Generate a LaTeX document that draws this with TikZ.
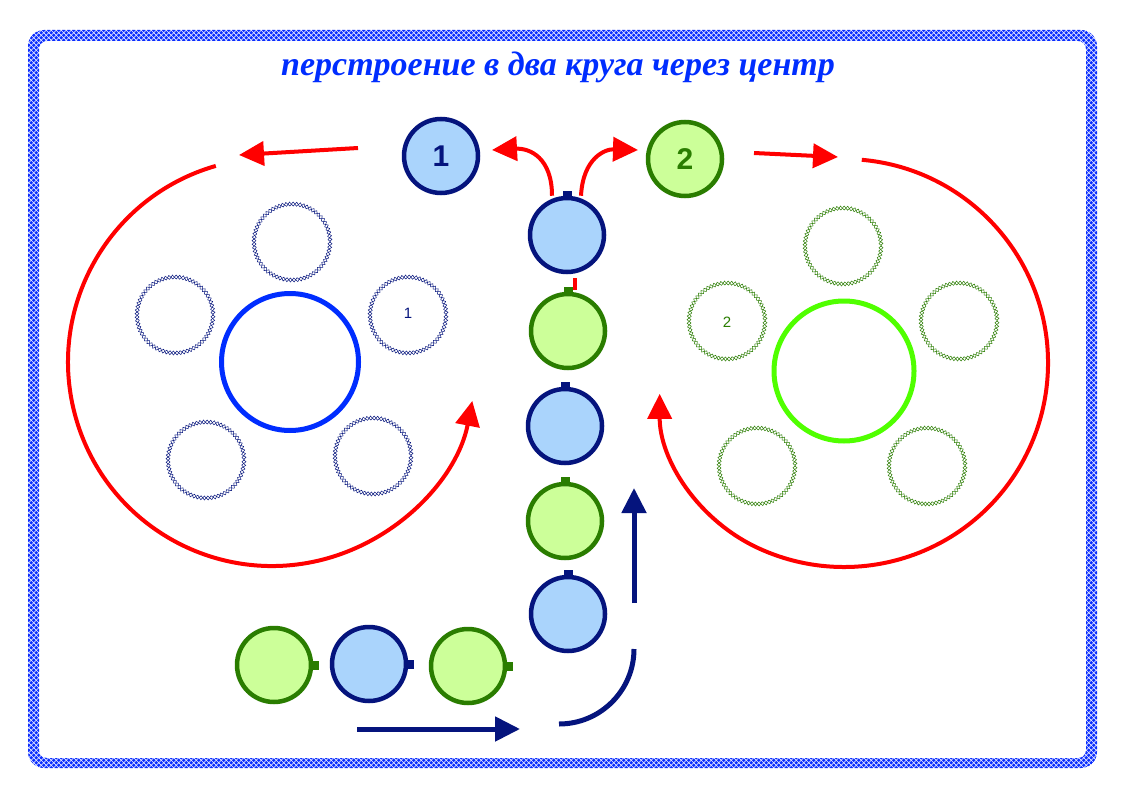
\documentclass[tikz,border=0pt]{standalone}
\usepackage{fontspec}
\setmainfont{Liberation Serif}
\newfontfamily\numfont{Liberation Sans}
\usetikzlibrary{arrows.meta,decorations.pathmorphing,patterns}
\definecolor{navy}{RGB}{5,20,125}
\definecolor{lblue}{RGB}{170,212,252}
\definecolor{dgreen}{RGB}{42,125,0}
\definecolor{lgreen}{RGB}{204,255,153}
\definecolor{bblue}{RGB}{0,45,255}
\definecolor{bgreen}{RGB}{80,255,0}
\definecolor{redc}{RGB}{255,0,0}
\definecolor{framec}{RGB}{10,45,255}
\pgfdeclarepatternformonly{framedots}{\pgfqpoint{-1pt}{-1pt}}{\pgfqpoint{6pt}{6pt}}{\pgfqpoint{5pt}{5pt}}{%
  \pgfpathcircle{\pgfqpoint{1.25pt}{1.25pt}}{1.95pt}%
  \pgfpathcircle{\pgfqpoint{3.75pt}{3.75pt}}{1.95pt}%
  \pgfusepath{fill}}
\tikzset{
  bluep/.style={circle, draw=navy, fill=lblue, line width=4.5pt, minimum size=74pt, inner sep=0pt, text=navy},
  greenp/.style={circle, draw=dgreen, fill=lgreen, line width=4.5pt, minimum size=74pt, inner sep=0pt, text=dgreen},
  redarrow/.style={draw=redc, line width=4pt, -{Triangle[length=25pt,width=24pt]}},
  navyarrow/.style={draw=navy, line width=5pt, -{Triangle[length=25pt,width=24pt]}},
  zigA/.style={draw=#1, line width=0.5pt, decorate, decoration={zigzag, segment length=7pt, amplitude=2pt}},
  zigB/.style={draw=#1, line width=0.5pt, decorate, decoration={zigzag, segment length=7pt, amplitude=2pt, mirror}},
  numtext/.style={font=\numfont\bfseries\fontsize{30}{30}\selectfont},
}
\begin{document}
\begin{tikzpicture}[x=1pt, y=-1pt]
\useasboundingbox (0,0) rectangle (1123,794);
\fill[white] (0,0) rectangle (1123,794);
% frame
\fill[pattern=framedots, pattern color=framec, even odd rule]
  [rounded corners=16pt] (28,30) rectangle (1097,768)
  {[rounded corners=8pt] (39,41) rectangle (1086,758)};
% title
\node (title) at (558,67) {\color{bblue}\bfseries\itshape\fontsize{34}{34}\selectfont перстроение в два круга через центр};

% left group
\draw[bblue, line width=5pt] (290,362) circle[radius=68.5];
\foreach \p in {(292,242),(175,315),(408,315),(206,460),(373,456)}{
  \draw[zigA=navy] \p circle[radius=38];
  \draw[zigB=navy] \p circle[radius=38];
}
\node[text=navy, font=\numfont\fontsize{15}{15}\selectfont] (s1) at (408,313) {1};
% right group
\draw[bgreen, line width=5pt] (844,371) circle[radius=70];
\foreach \p in {(843,246),(727,321),(959,321),(757,466),(927,466)}{
  \draw[zigA=dgreen] \p circle[radius=38];
  \draw[zigB=dgreen] \p circle[radius=38];
}
\node[text=dgreen, font=\numfont\fontsize{15}{15}\selectfont] (s2) at (727,322) {2};

% red arcs
\coordinate (la) at (215.8,165.9);
\draw[redarrow] (la) arc[start angle=254, end angle=11, radius=204];
\coordinate (ra) at (861.8,159.8);
\draw[redarrow] (ra) arc[start angle=-85, end angle=115, radius=204] arc[start angle=115, end angle=180, radius=170];

% numbered nodes
\node[bluep, numtext] (one) at (441,156) {1};
\node[greenp, numtext] (two) at (685,159) {2};

% top red arrows
\coordinate (ta1) at (358,148); \coordinate (ta2) at (239,155);
\draw[redarrow] (ta1) -- (ta2);
\coordinate (tb1) at (754,153); \coordinate (tb2) at (838,157);
\draw[redarrow] (tb1) -- (tb2);

% column
\node[bluep] (c1) at (567,235) {};
\node[greenp] (c2) at (568,331) {};
\node[bluep] (c3) at (565,426) {};
\node[greenp] (c4) at (565,521) {};
\node[bluep] (c5) at (568,614) {};
\foreach \n/\c in {c1/navy,c2/dgreen,c3/navy,c4/dgreen,c5/navy}{
  \fill[\c] ([xshift=-4.5pt,yshift=-2pt]\n.north) rectangle ([xshift=4.5pt,yshift=5pt]\n.north);
}
\draw[redc, line width=4pt] (575,278) -- (575,290);

% curved red arrows from c1
\coordinate (cl) at (492,150);
\coordinate (cr) at (638,150);
\draw[redarrow] ([xshift=-15pt]c1.north) .. controls (552,158) and (530,148) .. (cl);
\draw[redarrow] ([xshift=14pt]c1.north) .. controls (583,158) and (605,149) .. (cr);

% bottom row
\node[greenp] (b1) at (274,665) {};
\node[bluep] (b2) at (369,664) {};
\node[greenp] (b3) at (468,666) {};
\foreach \n/\c in {b1/dgreen,b2/navy,b3/dgreen}{
  \fill[\c] ([xshift=-2pt,yshift=-4.5pt]\n.east) rectangle ([xshift=6pt,yshift=4.5pt]\n.east);
}

% navy arrows
\coordinate (h1) at (357,729); \coordinate (h2) at (520,729);
\draw[navyarrow] (h1) -- (h2);
\coordinate (q1) at (559,724);
\draw[navy, line width=5pt] (q1) arc[start angle=90, end angle=0, radius=75];
\coordinate (v1) at (634,603); \coordinate (v2) at (634,488);
\draw[navyarrow] (v1) -- (v2);
\end{tikzpicture}
\end{document}
